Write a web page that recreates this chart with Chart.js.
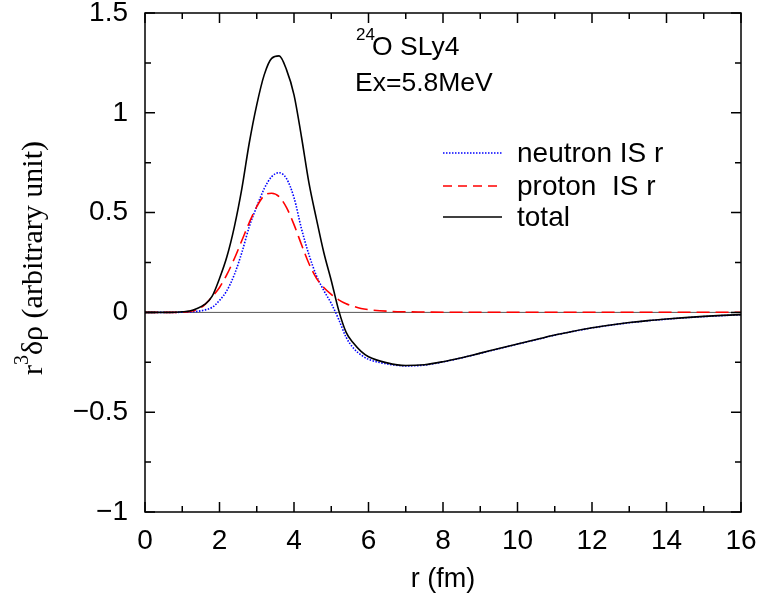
<!DOCTYPE html>
<html>
<head>
<meta charset="utf-8">
<script src="https://cdn.jsdelivr.net/npm/chart.js@4"></script>
<style>
  html, body { margin: 0; padding: 0; background: #fff; }
  #wrap { width: 763px; height: 595px; }
</style>
</head>
<body>
<div id="wrap"><canvas id="densChart" width="763" height="595"></canvas></div>
<script>
// radial grid (fm)
const rValues = [0, 0.2, 0.4, 0.6, 0.8, 1.0, 1.2, 1.4, 1.6, 1.8, 2.0, 2.2, 2.4, 2.6, 2.8, 3.0,
  3.2, 3.4, 3.6, 3.8, 4.0, 4.2, 4.4, 4.6, 4.8, 5.0, 5.2, 5.4, 5.6, 5.8, 6.0,
  6.5, 7.0, 7.5, 8.0, 8.5, 9.0, 9.5, 10, 10.5, 11, 11.5, 12, 12.5, 13, 13.5, 14, 14.5, 15, 15.5, 16];

// r^3 drho
const neutronIS = [0, 0, 0, 0, 0, 0.001, 0.002, 0.005, 0.012, 0.025, 0.06, 0.11, 0.19, 0.30, 0.43, 0.53,
  0.62, 0.68, 0.70, 0.67, 0.575, 0.42, 0.29, 0.185, 0.11, 0.045, -0.035, -0.125, -0.18, -0.213, -0.235,
  -0.258, -0.268, -0.264, -0.248, -0.228, -0.205, -0.182, -0.159, -0.137, -0.114, -0.095, -0.078, -0.064,
  -0.052, -0.042, -0.034, -0.027, -0.021, -0.016, -0.012];

const protonIS = [0, 0, 0, 0, 0, 0.001, 0.005, 0.014, 0.038, 0.078, 0.125, 0.19, 0.27, 0.36, 0.45, 0.53,
  0.585, 0.597, 0.58, 0.525, 0.44, 0.34, 0.245, 0.172, 0.125, 0.09, 0.063, 0.043, 0.03, 0.02, 0.014,
  0.006, 0.003, 0.002, 0.001, 0.001, 0.001, 0.001, 0.001, 0.001, 0.001, 0.001, 0.001, 0.001,
  0.001, 0.001, 0.001, 0.001, 0.001, 0.001, 0.001];

const totalIS = [0, 0, 0, 0, 0.001, 0.003, 0.007, 0.02, 0.04, 0.08, 0.17, 0.28, 0.43, 0.62, 0.85, 1.04,
  1.19, 1.273, 1.285, 1.215, 1.09, 0.88, 0.65, 0.47, 0.30, 0.16, 0.01, -0.1, -0.155, -0.195, -0.222,
  -0.253, -0.266, -0.262, -0.247, -0.227, -0.204, -0.181, -0.158, -0.136, -0.113, -0.094, -0.077, -0.063,
  -0.051, -0.041, -0.033, -0.026, -0.02, -0.015, -0.011];

const xTicks = [0, 2, 4, 6, 8, 10, 12, 14, 16];
const yTicks = [-1, -0.5, 0, 0.5, 1, 1.5];

const legendLabels = ["neutron IS r", "proton  IS r", "total"];

const SANS = "'Liberation Sans', Arial, Helvetica, sans-serif";
const SERIF = "'Liberation Serif', 'Times New Roman', serif";

const toPoints = vals => rValues.map((r, i) => ({ x: r, y: vals[i] }));

const styles = [
  { color: "#0000ff", dash: [1.5, 1.5], width: 1.6 },
  { color: "#ff0000", dash: [13, 6], width: 1.6 },
  { color: "#000000", dash: [], width: 1.6 }
];

// frame with inward ticks on all four sides, zero line, labels and legend
const framePlugin = {
  id: "frame",
  beforeDatasetsDraw(chart) {
    const { ctx, chartArea: a, scales: { y } } = chart;
    const y0 = y.getPixelForValue(0);
    ctx.save();
    ctx.strokeStyle = "#555";
    ctx.lineWidth = 1;
    ctx.beginPath();
    ctx.moveTo(a.left, y0);
    ctx.lineTo(a.right, y0);
    ctx.stroke();
    ctx.restore();
  },
  afterDraw(chart) {
    const { ctx, chartArea: a, scales: { x, y } } = chart;
    ctx.save();
    ctx.strokeStyle = "#000";
    ctx.lineWidth = 1.5;
    ctx.strokeRect(a.left, a.top, a.right - a.left, a.bottom - a.top);

    ctx.beginPath();
    for (let v = 0; v <= 16; v += 1) {
      const px = x.getPixelForValue(v);
      const len = v % 2 === 0 ? 10 : 6;
      ctx.moveTo(px, a.bottom); ctx.lineTo(px, a.bottom - len);
      ctx.moveTo(px, a.top); ctx.lineTo(px, a.top + len);
    }
    for (let k = -4; k <= 6; k++) {
      const py = y.getPixelForValue(k * 0.25);
      const len = k % 2 === 0 ? 10 : 6;
      ctx.moveTo(a.left, py); ctx.lineTo(a.left + len, py);
      ctx.moveTo(a.right, py); ctx.lineTo(a.right - len, py);
    }
    ctx.stroke();

    // x title
    ctx.fillStyle = "#000";
    ctx.font = "27px " + SANS;
    ctx.textAlign = "center";
    ctx.textBaseline = "alphabetic";
    ctx.fillText("r (fm)", (a.left + a.right) / 2, 587);

    // y title, rotated, with superscript 3
    ctx.save();
    ctx.translate(42, 258);
    ctx.rotate(-Math.PI / 2);
    ctx.textAlign = "left";
    const big = "30px " + SERIF, small = "20px " + SERIF;
    ctx.font = big; const w1 = ctx.measureText("r").width;
    ctx.font = small; const w2 = ctx.measureText("3").width;
    ctx.font = big; const w3 = ctx.measureText("\u03b4\u03c1 (arbitrary unit)").width;
    let cx = -(w1 + w2 + w3) / 2;
    ctx.font = big; ctx.fillText("r", cx, 0); cx += w1;
    ctx.font = small; ctx.fillText("3", cx, -14); cx += w2;
    ctx.font = big; ctx.fillText("\u03b4\u03c1 (arbitrary unit)", cx, 0);
    ctx.restore();

    // annotation
    ctx.textAlign = "left";
    ctx.font = "17px " + SANS;
    ctx.fillText("24", 356, 40);
    ctx.font = "26.5px " + SANS;
    ctx.fillText("O SLy4", 372, 55);
    ctx.fillText("Ex=5.8MeV", 355, 91);

    // legend
    const rows = [153, 186, 217];
    legendLabels.forEach((label, i) => {
      const s = styles[i];
      ctx.strokeStyle = s.color;
      ctx.lineWidth = s.width;
      ctx.setLineDash(s.dash.map(d => Math.min(d, 9)));
      ctx.beginPath();
      ctx.moveTo(443, rows[i]);
      ctx.lineTo(502, rows[i]);
      ctx.stroke();
      ctx.setLineDash([]);
      ctx.fillStyle = "#000";
      ctx.font = "28px " + SANS;
      ctx.textBaseline = "middle";
      ctx.fillText(label, 517, rows[i] + 1);
    });
    ctx.restore();
  }
};

const series = [neutronIS, protonIS, totalIS];

new Chart(document.getElementById("densChart").getContext("2d"), {
  type: "line",
  data: {
    datasets: series.map((vals, i) => ({
      label: legendLabels[i],
      data: toPoints(vals),
      borderColor: styles[i].color,
      borderDash: styles[i].dash,
      borderWidth: styles[i].width,
      pointRadius: 0,
      fill: false,
      cubicInterpolationMode: "monotone",
      order: 3 - i
    }))
  },
  options: {
    responsive: false,
    animation: false,
    layout: { padding: { left: 0, right: 22, top: 13, bottom: 0 } },
    plugins: { legend: { display: false }, tooltip: { enabled: false } },
    scales: {
      x: {
        type: "linear",
        min: 0,
        max: 16,
        afterBuildTicks: s => { s.ticks = xTicks.map(v => ({ value: v })); },
        afterFit: s => { s.height = 83; s.paddingLeft = 0; s.paddingRight = 0; },
        grid: { display: false, drawTicks: false },
        border: { display: false },
        ticks: { color: "#000", font: { family: SANS, size: 28 }, padding: 12, maxRotation: 0 }
      },
      y: {
        min: -1,
        max: 1.5,
        afterBuildTicks: s => { s.ticks = yTicks.map(v => ({ value: v })); },
        afterFit: s => { s.width = 145; s.paddingTop = 0; s.paddingBottom = 0; },
        grid: { display: false, drawTicks: false },
        border: { display: false },
        ticks: {
          color: "#000",
          font: { family: SANS, size: 28 },
          padding: 17,
          callback: v => (v < 0 ? "\u2212" + Math.abs(v) : String(v))
        }
      }
    }
  },
  plugins: [framePlugin]
});
</script>
</body>
</html>
